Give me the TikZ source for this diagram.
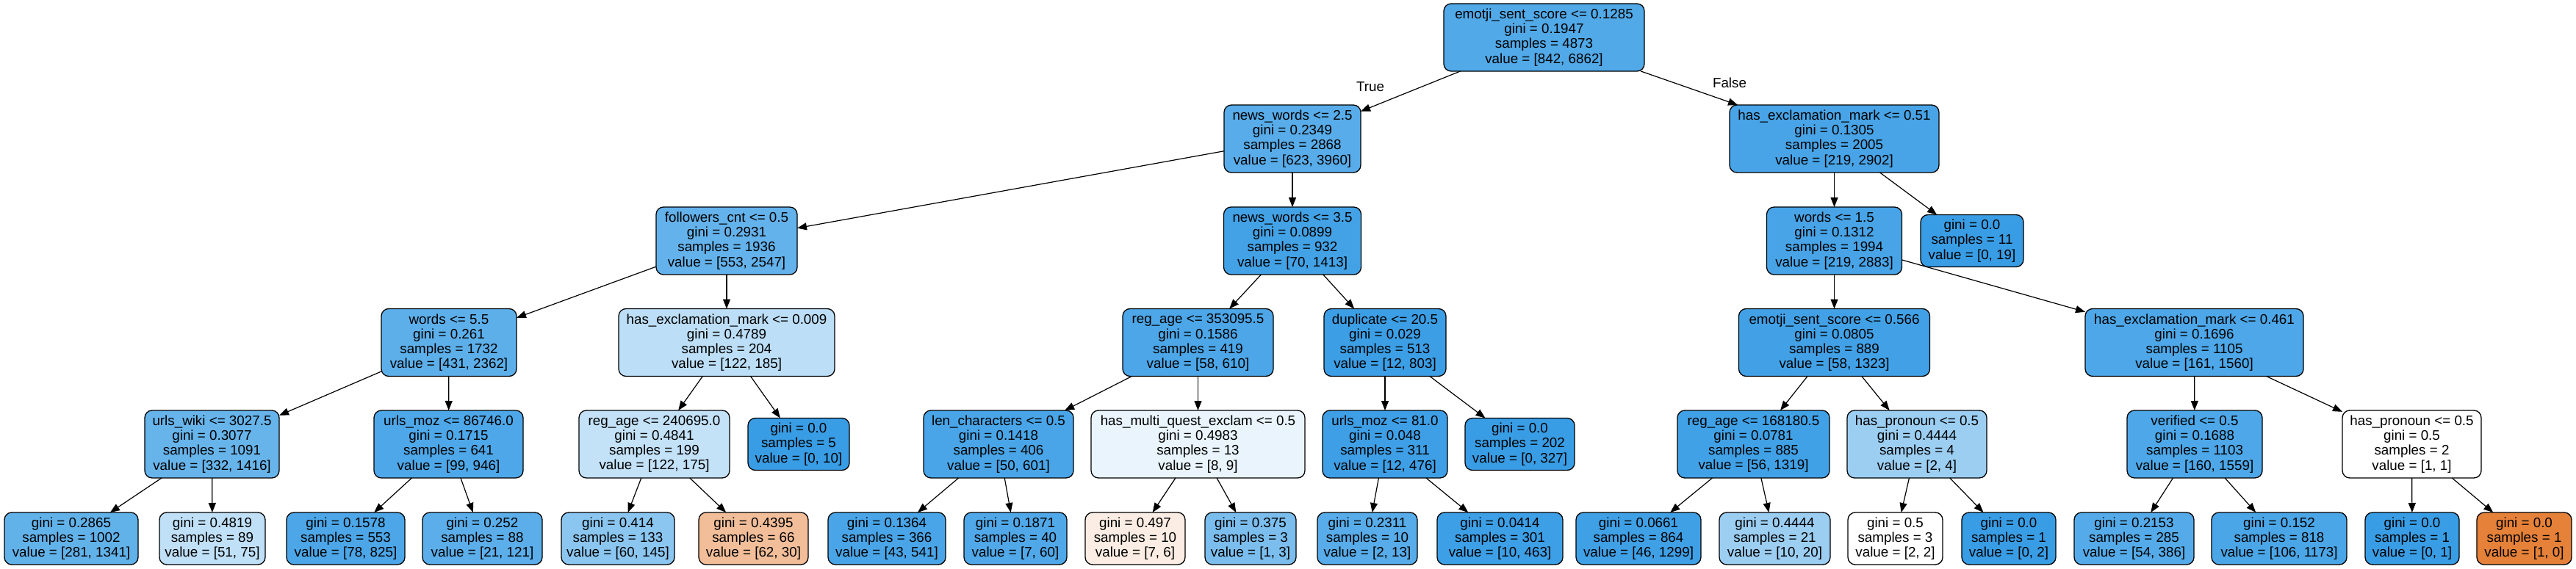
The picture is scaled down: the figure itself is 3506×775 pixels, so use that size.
\documentclass[tikz,border=0pt]{standalone}
\usepackage{fontspec}
\setmainfont{Liberation Sans}
\usetikzlibrary{arrows.meta}
\definecolor{cA}{RGB}{81,169,232}
\definecolor{cB}{RGB}{88,172,233}
\definecolor{cC}{RGB}{72,164,231}
\definecolor{cD}{RGB}{100,178,235}
\definecolor{cE}{RGB}{67,162,230}
\definecolor{cF}{RGB}{57,157,229}
\definecolor{cG}{RGB}{93,175,234}
\definecolor{cH}{RGB}{188,222,246}
\definecolor{cI}{RGB}{76,166,231}
\definecolor{cJ}{RGB}{60,158,229}
\definecolor{cK}{RGB}{66,161,230}
\definecolor{cL}{RGB}{77,167,232}
\definecolor{cM}{RGB}{103,180,235}
\definecolor{cN}{RGB}{78,167,232}
\definecolor{cO}{RGB}{195,225,247}
\definecolor{cP}{RGB}{73,165,231}
\definecolor{cQ}{RGB}{233,244,252}
\definecolor{cR}{RGB}{62,159,230}
\definecolor{cS}{RGB}{65,161,230}
\definecolor{cT}{RGB}{156,206,242}
\definecolor{cU}{RGB}{98,178,234}
\definecolor{cV}{RGB}{192,224,247}
\definecolor{cW}{RGB}{91,174,234}
\definecolor{cX}{RGB}{139,198,240}
\definecolor{cY}{RGB}{242,190,153}
\definecolor{cZ}{RGB}{80,168,232}
\definecolor{ca}{RGB}{251,237,227}
\definecolor{cb}{RGB}{123,190,238}
\definecolor{cc}{RGB}{87,172,233}
\definecolor{cd}{RGB}{61,159,230}
\definecolor{ce}{RGB}{64,160,230}
\definecolor{cf}{RGB}{85,171,233}
\definecolor{cg}{RGB}{75,166,231}
\definecolor{ch}{RGB}{229,129,57}
\tikzset{
  tn/.style={draw=black, rounded corners=10pt, line width=1.3pt, inner sep=0pt, outer sep=0pt,
    align=center, font=\fontsize{18.8}{20.2}\selectfont, minimum height=92pt},
  leaf/.style={tn, minimum height=71pt},
  tedge/.style={line width=1.2pt, -{Triangle[length=13pt,width=10pt]}},
  lbl/.style={font=\fontsize{18.8}{20.2}\selectfont, inner sep=0pt}
}
\begin{document}
\begin{tikzpicture}[x=1pt,y=-1pt]
\useasboundingbox (0,0) rectangle (3506,775);
% level 0
\node[tn, fill=cA, minimum width=273pt] (n0) at (2101.5,51) {emotji\_sent\_score <= 0.1285\\gini = 0.1947\\samples = 4873\\value = [842, 6862]};
% level 1
\node[tn, fill=cB, minimum width=186pt] (n1) at (1759,189) {news\_words <= 2.5\\gini = 0.2349\\samples = 2868\\value = [623, 3960]};
\node[tn, fill=cC, minimum width=285pt] (n2) at (2496.5,189) {has\_exclamation\_mark <= 0.51\\gini = 0.1305\\samples = 2005\\value = [219, 2902]};
% level 2
\node[tn, fill=cD, minimum width=192pt] (n3) at (989,328) {followers\_cnt <= 0.5\\gini = 0.2931\\samples = 1936\\value = [553, 2547]};
\node[tn, fill=cE, minimum width=187pt] (n4) at (1759,328) {news\_words <= 3.5\\gini = 0.0899\\samples = 932\\value = [70, 1413]};
\node[tn, fill=cC, minimum width=184pt] (n5) at (2496.5,328) {words <= 1.5\\gini = 0.1312\\samples = 1994\\value = [219, 2883]};
\node[leaf, fill=cF, minimum width=140pt] (n6) at (2684,328) {gini = 0.0\\samples = 11\\value = [0, 19]};
% level 3
\node[tn, fill=cG, minimum width=184pt] (n7) at (611,466.5) {words <= 5.5\\gini = 0.261\\samples = 1732\\value = [431, 2362]};
\node[tn, fill=cH, minimum width=294pt] (n8) at (989,466.5) {has\_exclamation\_mark <= 0.009\\gini = 0.4789\\samples = 204\\value = [122, 185]};
\node[tn, fill=cI, minimum width=205pt] (n9) at (1630.5,466.5) {reg\_age <= 353095.5\\gini = 0.1586\\samples = 419\\value = [58, 610]};
\node[tn, fill=cJ, minimum width=166pt] (n10) at (1885,466.5) {duplicate <= 20.5\\gini = 0.029\\samples = 513\\value = [12, 803]};
\node[tn, fill=cK, minimum width=260pt] (n11) at (2496.5,466.5) {emotji\_sent\_score <= 0.566\\gini = 0.0805\\samples = 889\\value = [58, 1323]};
\node[tn, fill=cL, minimum width=297pt] (n12) at (2986.5,466.5) {has\_exclamation\_mark <= 0.461\\gini = 0.1696\\samples = 1105\\value = [161, 1560]};
% level 4
\node[tn, fill=cM, minimum width=183pt] (n13) at (288.5,605) {urls\_wiki <= 3027.5\\gini = 0.3077\\samples = 1091\\value = [332, 1416]};
\node[tn, fill=cN, minimum width=203pt] (n14) at (610.5,605) {urls\_moz <= 86746.0\\gini = 0.1715\\samples = 641\\value = [99, 946]};
\node[tn, fill=cO, minimum width=205pt] (n15) at (890.5,605) {reg\_age <= 240695.0\\gini = 0.4841\\samples = 199\\value = [122, 175]};
\node[leaf, fill=cF, minimum width=138pt] (n16) at (1087,605) {gini = 0.0\\samples = 5\\value = [0, 10]};
\node[tn, fill=cP, minimum width=204pt] (n17) at (1359,605) {len\_characters <= 0.5\\gini = 0.1418\\samples = 406\\value = [50, 601]};
\node[tn, fill=cQ, minimum width=291pt] (n18) at (1630.5,605) {has\_multi\_quest\_exclam <= 0.5\\gini = 0.4983\\samples = 13\\value = [8, 9]};
\node[tn, fill=cR, minimum width=170pt] (n19) at (1885,605) {urls\_moz <= 81.0\\gini = 0.048\\samples = 311\\value = [12, 476]};
\node[leaf, fill=cF, minimum width=149pt] (n20) at (2068.5,605) {gini = 0.0\\samples = 202\\value = [0, 327]};
\node[tn, fill=cS, minimum width=207pt] (n21) at (2386.5,605) {reg\_age <= 168180.5\\gini = 0.0781\\samples = 885\\value = [56, 1319]};
\node[tn, fill=cT, minimum width=190pt] (n22) at (2609,605) {has\_pronoun <= 0.5\\gini = 0.4444\\samples = 4\\value = [2, 4]};
\node[tn, fill=cL, minimum width=184pt] (n23) at (2987,605) {verified <= 0.5\\gini = 0.1688\\samples = 1103\\value = [160, 1559]};
\node[tn, fill=white, minimum width=189pt] (n24) at (3282.5,605) {has\_pronoun <= 0.5\\gini = 0.5\\samples = 2\\value = [1, 1]};
% level 5
\node[leaf, fill=cU, minimum width=182pt] (l1) at (97,733.5) {gini = 0.2865\\samples = 1002\\value = [281, 1341]};
\node[leaf, fill=cV, minimum width=144pt] (l2) at (289,733.5) {gini = 0.4819\\samples = 89\\value = [51, 75]};
\node[leaf, fill=cI, minimum width=161pt] (l3) at (470.5,733.5) {gini = 0.1578\\samples = 553\\value = [78, 825]};
\node[leaf, fill=cW, minimum width=163pt] (l4) at (656.5,733.5) {gini = 0.252\\samples = 88\\value = [21, 121]};
\node[leaf, fill=cX, minimum width=154pt] (l5) at (841,733.5) {gini = 0.414\\samples = 133\\value = [60, 145]};
\node[leaf, fill=cY, minimum width=149pt] (l6) at (1025.5,733.5) {gini = 0.4395\\samples = 66\\value = [62, 30]};
\node[leaf, fill=cP, minimum width=160pt] (l7) at (1207,733.5) {gini = 0.1364\\samples = 366\\value = [43, 541]};
\node[leaf, fill=cZ, minimum width=140pt] (l8) at (1382,733.5) {gini = 0.1871\\samples = 40\\value = [7, 60]};
\node[leaf, fill=ca, minimum width=136pt] (l9) at (1545,733.5) {gini = 0.497\\samples = 10\\value = [7, 6]};
\node[leaf, fill=cb, minimum width=124pt] (l10) at (1702,733.5) {gini = 0.375\\samples = 3\\value = [1, 3]};
\node[leaf, fill=cc, minimum width=136pt] (l11) at (1861,733.5) {gini = 0.2311\\samples = 10\\value = [2, 13]};
\node[leaf, fill=cd, minimum width=171pt] (l12) at (2041.5,733.5) {gini = 0.0414\\samples = 301\\value = [10, 463]};
\node[leaf, fill=ce, minimum width=170pt] (l13) at (2230,733.5) {gini = 0.0661\\samples = 864\\value = [46, 1299]};
\node[leaf, fill=cT, minimum width=151pt] (l14) at (2415.5,733.5) {gini = 0.4444\\samples = 21\\value = [10, 20]};
\node[leaf, fill=white, minimum width=129pt] (l15) at (2579.5,733.5) {gini = 0.5\\samples = 3\\value = [2, 2]};
\node[leaf, fill=cF, minimum width=128pt] (l16) at (2734,733.5) {gini = 0.0\\samples = 1\\value = [0, 2]};
\node[leaf, fill=cf, minimum width=163pt] (l17) at (2904.5,733.5) {gini = 0.2153\\samples = 285\\value = [54, 386]};
\node[leaf, fill=cg, minimum width=184pt] (l18) at (3102,733.5) {gini = 0.152\\samples = 818\\value = [106, 1173]};
\node[leaf, fill=cF, minimum width=128pt] (l19) at (3283,733.5) {gini = 0.0\\samples = 1\\value = [0, 1]};
\node[leaf, fill=ch, minimum width=129pt] (l20) at (3435.5,733.5) {gini = 0.0\\samples = 1\\value = [1, 0]};
% edge labels
\node[lbl] (tl) at (1865,118) {True};
\node[lbl] (fl) at (2354,113) {False};
% edges
\foreach \a/\b in {n0/n1,n0/n2,n1/n3,n1/n4,n2/n5,n2/n6,n3/n7,n3/n8,n4/n9,n4/n10,
  n5/n11,n5/n12,n7/n13,n7/n14,n8/n15,n8/n16,n9/n17,n9/n18,n10/n19,n10/n20,
  n11/n21,n11/n22,n12/n23,n12/n24,n13/l1,n13/l2,n14/l3,n14/l4,n15/l5,n15/l6,
  n17/l7,n17/l8,n18/l9,n18/l10,n19/l11,n19/l12,n21/l13,n21/l14,n22/l15,n22/l16,
  n23/l17,n23/l18,n24/l19,n24/l20}
  \draw[tedge] (\a) -- (\b);
\end{tikzpicture}
\end{document}
